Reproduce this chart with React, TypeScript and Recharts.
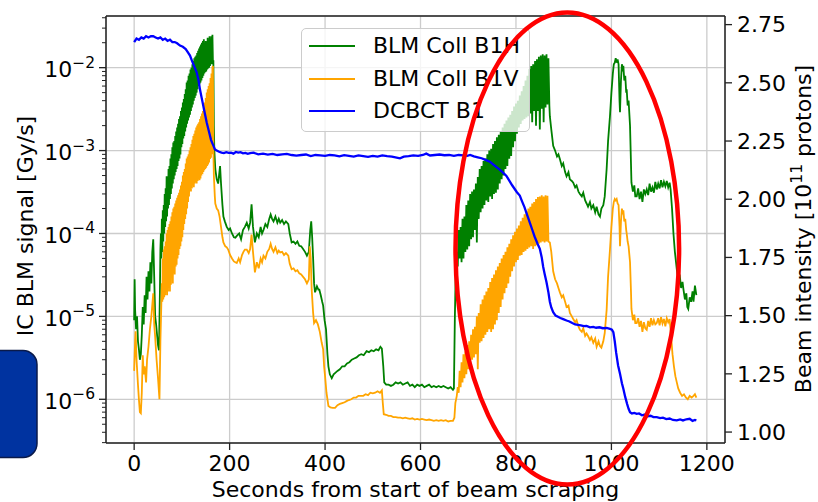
import React from 'react';
import { LineChart, Line, XAxis, YAxis, CartesianGrid, ReferenceLine, Legend, Customized } from 'recharts';

const FONT = 'DejaVu Sans';

// ---- axes / ticks ----
const xTicks = [0, 200, 400, 600, 800, 1000, 1200];
const xDomain = [-59, 1238];
const leftMajorTicks = [1e-6, 1e-5, 1e-4, 1e-3, 1e-2];
const leftMinorTicks = [
  3e-7, 4e-7, 5e-7, 6e-7, 7e-7, 8e-7, 9e-7,
  2e-6, 3e-6, 4e-6, 5e-6, 6e-6, 7e-6, 8e-6, 9e-6,
  2e-5, 3e-5, 4e-5, 5e-5, 6e-5, 7e-5, 8e-5, 9e-5,
  2e-4, 3e-4, 4e-4, 5e-4, 6e-4, 7e-4, 8e-4, 9e-4,
  2e-3, 3e-3, 4e-3, 5e-3, 6e-3, 7e-3, 8e-3, 9e-3,
  2e-2, 3e-2, 4e-2,
];
const leftDomain = [2.97e-7, 4.2e-2];
const rightTicks = [1.0, 1.25, 1.5, 1.75, 2.0, 2.25, 2.5, 2.75];
const rightDomain = [0.953, 2.787];

const xLabel = 'Seconds from start of beam scraping';
const leftLabel = 'IC BLM signal [Gy/s]';
const rightLabelParts = ['Beam intensity [10', '11', ' protons]'];
const seriesNames = ['BLM Coll B1H', 'BLM Coll B1V', 'DCBCT B1'];

// ---- series: [seconds, value] ----
const b1hPoints: [number, number][] = [
  [0, 9e-6], [1, 2.8e-5], [2, 1.2e-5], [4, 7e-6], [6, 1.0e-5], [8, 5e-6], [10, 4e-6], [12, 3e-6], [14, 3.5e-6], [16, 6e-6],
  [18, 1.3e-5], [20, 8e-6], [22, 1.8e-5], [24, 1.1e-5], [26, 3e-5], [28, 1.6e-5], [30, 3.5e-5], [32, 2e-5], [34, 4.5e-5], [36, 2.5e-5],
  [38, 6e-5], [40, 8.5e-5], [42, 3e-5], [44, 1e-5], [46, 8e-6], [48, 6e-6], [50, 4.5e-6], [52, 3.9e-6], [54, 2e-5],
  [55, 6.4e-5], [56, 1.0e-4], [57, 5e-5], [58, 1.5e-4], [59, 6e-5], [60, 1.9e-4], [61, 8e-5], [62, 2.2e-4], [63, 1.0e-4], [64, 3e-4],
  [65, 1.2e-4], [66, 3.5e-4], [67, 1.4e-4], [68, 4.9e-4], [69, 1.6e-4], [70, 4.5e-4], [71, 2e-4], [72, 6e-4], [73, 2.2e-4], [74, 6.5e-4],
  [75, 2.6e-4], [76, 8e-4], [77, 3e-4], [78, 9e-4], [79, 3.5e-4], [80, 1.1e-3], [81, 4e-4], [82, 1.25e-3], [83, 4.5e-4], [84, 1.3e-3],
  [85, 5e-4], [86, 1.5e-3], [87, 5.5e-4], [88, 1.7e-3], [89, 6e-4], [90, 1.9e-3], [91, 6.5e-4], [92, 2.1e-3], [93, 7.5e-4], [94, 2.4e-3],
  [95, 8e-4], [96, 2.6e-3], [97, 9e-4], [98, 3e-3], [99, 1.1e-3], [100, 3.3e-3], [101, 1.2e-3], [102, 3.8e-3], [103, 1.4e-3], [104, 4.2e-3],
  [105, 1.5e-3], [106, 4.8e-3], [107, 1.7e-3], [108, 5.5e-3], [109, 1.9e-3], [110, 6.6e-3], [111, 2.1e-3], [112, 7e-3], [113, 2.3e-3], [114, 8e-3],
  [115, 2.5e-3], [116, 8.5e-3], [117, 2.7e-3], [118, 9.5e-3], [119, 3e-3], [120, 1.0e-2], [121, 3.3e-3], [122, 1.1e-2], [123, 3.6e-3], [124, 1.2e-2],
  [125, 4e-3], [126, 1.3e-2], [127, 4.3e-3], [128, 1.35e-2], [129, 4.6e-3], [130, 1.4e-2], [131, 5e-3], [132, 1.5e-2], [133, 5.5e-3], [134, 1.6e-2],
  [135, 6e-3], [136, 1.7e-2], [137, 6.3e-3], [138, 1.8e-2], [139, 6.6e-3], [140, 1.9e-2], [141, 7e-3], [142, 2e-2], [143, 7.5e-3], [144, 2.1e-2],
  [145, 8e-3], [146, 2.2e-2], [147, 8.5e-3], [148, 1.9e-2], [149, 8.8e-3], [150, 2.1e-2], [151, 9e-3], [152, 2.0e-2], [153, 9.5e-3], [154, 2.3e-2],
  [155, 9.8e-3], [156, 2.1e-2], [157, 1.0e-2], [158, 2.4e-2], [159, 1.05e-2], [160, 2.2e-2], [161, 1.1e-2], [162, 2.4e-2], [163, 1.1e-2], [164, 2.5e-2],
  [165, 1.2e-2], [166, 1.2e-2], [167, 2e-3], [168, 1.0e-3], [170, 6e-4], [173, 4.5e-4], [176, 4e-4], [180, 6.5e-4], [182, 4e-4], [185, 2.2e-4],
  [187, 1.6e-4], [190, 1.4e-4], [194, 1.2e-4], [198, 1.1e-4], [201, 1.15e-4], [205, 1.0e-4], [209, 9e-5], [212, 8.9e-5], [216, 9.5e-5], [220, 1.0e-4],
  [224, 8.5e-5], [228, 1.1e-4], [232, 1.2e-4], [236, 1.35e-4], [240, 1.15e-4], [243, 1.35e-4], [246, 2.25e-4], [249, 1.2e-4], [253, 7.8e-5], [257, 1.0e-4],
  [261, 9e-5], [265, 1.2e-4], [268, 1.0e-4], [271, 1.1e-4], [275, 1.3e-4], [279, 1.2e-4], [283, 1.5e-4], [286, 1.7e-4], [289, 1.5e-4], [292, 1.4e-4],
  [296, 1.6e-4], [300, 1.35e-4], [303, 1.5e-4], [306, 1.35e-4], [310, 1.45e-4], [314, 1.3e-4], [318, 1.4e-4], [323, 1.3e-4], [326, 1.0e-4], [330, 7.8e-5],
  [334, 8e-5], [338, 7.5e-5], [342, 8e-5], [346, 7.1e-5], [350, 7e-5], [354, 6.5e-5], [358, 6e-5], [362, 5.4e-5], [366, 6e-5], [369, 1.1e-4],
  [371, 1.4e-4], [373, 9e-5], [375, 5e-5], [377, 2.5e-5], [379, 1.95e-5], [383, 2.3e-5], [386, 2.1e-5], [388, 2.1e-5], [391, 1.8e-5], [394, 1.5e-5],
  [396, 1.35e-5], [399, 9e-6], [402, 7e-6], [405, 3.5e-6], [407, 2.5e-6], [410, 2.0e-6], [414, 1.8e-6], [418, 2.0e-6], [422, 2.1e-6], [426, 2.2e-6],
  [431, 2.3e-6], [436, 2.5e-6], [441, 2.5e-6], [446, 2.7e-6], [451, 2.8e-6], [456, 3e-6], [461, 3.1e-6], [466, 3.2e-6], [471, 3.4e-6], [476, 3.5e-6],
  [481, 3.4e-6], [487, 3.8e-6], [492, 3.7e-6], [497, 3.9e-6], [502, 3.8e-6], [507, 4.0e-6], [512, 3.9e-6], [516, 4.3e-6], [519, 4.1e-6], [522, 2.5e-6],
  [524, 1.6e-6], [528, 1.5e-6], [533, 1.5e-6], [538, 1.45e-6], [543, 1.5e-6], [548, 1.6e-6], [553, 1.55e-6], [558, 1.6e-6], [563, 1.5e-6], [568, 1.55e-6],
  [573, 1.6e-6], [578, 1.45e-6], [583, 1.5e-6], [588, 1.4e-6], [593, 1.5e-6], [598, 1.45e-6], [603, 1.5e-6], [608, 1.4e-6], [613, 1.45e-6], [618, 1.5e-6],
  [623, 1.4e-6], [628, 1.45e-6], [633, 1.4e-6], [638, 1.45e-6], [643, 1.4e-6], [648, 1.45e-6], [653, 1.4e-6], [658, 1.35e-6], [663, 1.4e-6], [668, 1.3e-6],
  [670, 1.35e-6], [672, 1e-5], [674, 4e-5], [676, 6e-5], [678, 4e-5], [680, 1.1e-4], [682, 5e-5], [684, 1.2e-4], [686, 4.5e-5], [688, 1.5e-4],
  [690, 5e-5], [692, 1.6e-4], [694, 6e-5], [696, 2.2e-4], [698, 6.4e-5], [700, 2.5e-4], [702, 7e-5], [704, 3e-4], [706, 8.5e-5], [708, 3.2e-4],
  [710, 9e-5], [712, 3.4e-4], [714, 1.1e-4], [716, 4e-4], [718, 7.8e-5], [720, 4.8e-4], [722, 1.5e-4], [724, 6e-4], [726, 1.8e-4], [728, 6.5e-4],
  [730, 2e-4], [732, 7.5e-4], [734, 2.2e-4], [736, 8e-4], [738, 2.5e-4], [740, 9e-4], [742, 2.4e-4], [744, 1.0e-3], [746, 2.8e-4], [748, 1.05e-3],
  [750, 2.6e-4], [752, 1.2e-3], [754, 3e-4], [756, 1.3e-3], [758, 3.1e-4], [760, 1.45e-3], [762, 3.4e-4], [764, 1.55e-3], [766, 4e-4], [768, 1.7e-3],
  [770, 4.5e-4], [772, 1.9e-3], [774, 5e-4], [776, 2.1e-3], [778, 6e-4], [780, 2.3e-3], [782, 6.5e-4], [784, 2.5e-3], [786, 8e-4], [788, 2.7e-3],
  [790, 8.6e-4], [792, 3e-3], [794, 1.1e-3], [796, 3.4e-3], [798, 1.3e-3], [800, 3.7e-3], [802, 1.6e-3], [804, 4e-3], [806, 1.9e-3], [808, 4.6e-3],
  [810, 2.1e-3], [812, 5.2e-3], [814, 2.3e-3], [816, 6e-3], [818, 2.4e-3], [820, 7e-3], [822, 2.5e-3], [824, 8e-3], [826, 2.6e-3], [828, 9.6e-3],
  [830, 2.8e-3], [832, 1.05e-2], [834, 2.2e-3], [836, 1.1e-2], [838, 3e-3], [840, 1.2e-2], [842, 2.0e-3], [844, 1.26e-2], [846, 3e-3], [848, 1.35e-2],
  [850, 1.8e-3], [852, 1.4e-2], [854, 3.2e-3], [856, 1.45e-2], [858, 2.2e-3], [860, 1.4e-2], [862, 3.3e-3], [864, 1.45e-2], [866, 3.6e-3], [868, 1.3e-2],
  [870, 3.5e-3], [871, 2.6e-3], [874, 1.8e-3], [878, 1.14e-3], [882, 1e-3], [886, 8.5e-4], [889, 9e-4], [892, 7.9e-4], [896, 6.5e-4], [899, 7e-4],
  [903, 5.5e-4], [906, 4.9e-4], [910, 5.5e-4], [913, 4.5e-4], [917, 4.3e-4], [920, 4.1e-4], [924, 3.6e-4], [927, 3.8e-4], [931, 3.2e-4], [934, 3e-4],
  [938, 2.8e-4], [941, 3.1e-4], [945, 2.5e-4], [948, 2.3e-4], [951, 2.1e-4], [955, 2.4e-4], [958, 2.0e-4], [962, 2.2e-4], [966, 1.8e-4], [969, 2.1e-4],
  [973, 1.7e-4], [976, 1.6e-4], [979, 2.0e-4], [983, 2.2e-4], [986, 2.8e-4], [990, 6e-4], [993, 1.3e-3], [997, 2.6e-3], [1000, 5e-3], [1003, 8.5e-3],
  [1005, 1.1e-2], [1007, 1.15e-2], [1009, 1.3e-2], [1011, 1.15e-2], [1013, 1.26e-2], [1015, 1.1e-2], [1017, 4e-3], [1018, 2.9e-3], [1020, 7e-3], [1022, 1.1e-2],
  [1024, 9e-3], [1025, 1.05e-2], [1027, 7e-3], [1029, 8e-3], [1031, 5e-3], [1032, 5.5e-3], [1034, 3.5e-3], [1036, 4e-3], [1039, 2e-3], [1041, 7e-4],
  [1042, 4.1e-4], [1045, 3.2e-4], [1048, 3.8e-4], [1050, 2.8e-4], [1053, 2.8e-4], [1056, 3.5e-4], [1059, 2.6e-4], [1062, 3.2e-4], [1065, 2.4e-4], [1068, 3.4e-4],
  [1071, 3e-4], [1074, 3.4e-4], [1077, 2.9e-4], [1080, 4e-4], [1083, 3.2e-4], [1086, 3.6e-4], [1089, 3.1e-4], [1092, 4.2e-4], [1095, 3.4e-4], [1098, 4e-4],
  [1101, 3.5e-4], [1104, 4.4e-4], [1107, 3.6e-4], [1110, 4.2e-4], [1113, 3.7e-4], [1116, 4.3e-4], [1119, 3.6e-4], [1122, 4.1e-4], [1124, 3.4e-4], [1127, 2e-4],
  [1130, 1e-4], [1133, 6e-5], [1137, 3.7e-5], [1140, 2.8e-5], [1143, 3.2e-5], [1146, 2.2e-5], [1149, 2.6e-5], [1151, 2.1e-5], [1154, 1.6e-5], [1157, 1.9e-5],
  [1159, 1.3e-5], [1161, 1.23e-5], [1164, 1.7e-5], [1167, 1.5e-5], [1170, 2e-5], [1172, 1.5e-5], [1175, 2.35e-5], [1178, 1.8e-5],
];

const b1vPoints: [number, number][] = [
  [0, 2.2e-6], [2, 5e-6], [3, 6.6e-6], [5, 3e-6], [8, 1.5e-6], [10, 9.9e-7], [12, 7e-7], [14, 6.8e-7], [16, 1.2e-6], [18, 3.4e-6],
  [20, 2e-6], [22, 2.5e-6], [25, 1.6e-6], [27, 3e-6], [30, 4.3e-6], [33, 7e-6], [36, 1e-5], [40, 1.9e-5], [42, 8e-6], [44, 5.7e-6],
  [47, 3e-6], [50, 1.8e-6], [53, 1.0e-6], [55, 5e-6], [57, 1.45e-5],
  [58, 2.5e-5], [59, 1.5e-5], [60, 5e-5], [61, 1.6e-5], [62, 6.4e-5], [63, 1.7e-5], [64, 7e-5], [65, 1.8e-5], [66, 8e-5], [67, 2e-5],
  [68, 1e-4], [69, 1.8e-5], [70, 1.1e-4], [71, 2e-5], [72, 1.2e-4], [73, 2.2e-5], [74, 1.3e-4], [75, 2e-5], [76, 1.4e-4], [77, 2.4e-5],
  [78, 1.6e-4], [79, 3e-5], [80, 1.8e-4], [81, 2.5e-5], [82, 2e-4], [83, 3.5e-5], [84, 2.1e-4], [85, 3.2e-5], [86, 2.3e-4], [87, 4e-5],
  [88, 2.5e-4], [89, 4.2e-5], [90, 2.7e-4], [91, 5e-5], [92, 2.9e-4], [93, 5.5e-5], [94, 3.1e-4], [95, 6.5e-5], [96, 3.4e-4], [97, 7e-5],
  [98, 3.8e-4], [99, 8e-5], [100, 4.2e-4], [101, 9e-5], [102, 5e-4], [103, 1.1e-4], [104, 5.5e-4], [105, 1.3e-4], [106, 6e-4], [107, 1.5e-4],
  [108, 7e-4], [109, 1.7e-4], [110, 8e-4], [111, 2e-4], [112, 8.5e-4], [113, 2.4e-4], [114, 9e-4], [115, 2.8e-4], [116, 1.0e-3], [117, 3.4e-4],
  [118, 1.1e-3], [119, 3.2e-4], [120, 1.2e-3], [121, 3.5e-4], [122, 1.35e-3], [123, 3.8e-4], [124, 1.5e-3], [125, 3.6e-4], [126, 1.6e-3], [127, 4e-4],
  [128, 1.75e-3], [129, 4.2e-4], [130, 1.9e-3], [131, 4e-4], [132, 2e-3], [133, 4.3e-4], [134, 2.1e-3], [135, 4.5e-4], [136, 2.2e-3], [137, 4.4e-4],
  [138, 2.4e-3], [139, 4.6e-4], [140, 2.6e-3], [141, 5e-4], [142, 2.8e-3], [143, 5.2e-4], [144, 3e-3], [145, 5.5e-4], [146, 3.4e-3], [147, 5.8e-4],
  [148, 3.8e-3], [149, 6e-4], [150, 4.3e-3], [151, 6.2e-4], [152, 5e-3], [153, 6.5e-4], [154, 5.5e-3], [155, 6.8e-4], [156, 6e-3], [157, 7.2e-4],
  [158, 6.5e-3], [159, 7.9e-4], [160, 7.5e-3], [161, 8.2e-4], [162, 8.5e-3], [163, 9e-4], [164, 1.0e-2], [165, 1.05e-2],
  [166, 1e-3], [167, 5e-4], [169, 2.8e-4], [170, 2.3e-4], [173, 2e-4], [176, 1.9e-4], [179, 1.6e-4], [182, 1.2e-4], [185, 9e-5], [187, 7.8e-5],
  [191, 7e-5], [194, 6.8e-5], [197, 6.4e-5], [201, 5.5e-5], [205, 5e-5], [209, 4.6e-5], [212, 4.5e-5], [215, 4.4e-5], [219, 5e-5], [222, 4.5e-5],
  [226, 5.5e-5], [229, 6e-5], [232, 6.4e-5], [236, 6.4e-5], [240, 5.8e-5], [243, 6.5e-5], [246, 9.7e-5], [249, 6e-5], [253, 3.4e-5], [257, 4.5e-5],
  [261, 3.8e-5], [265, 5e-5], [268, 4.5e-5], [271, 5.4e-5], [275, 5e-5], [279, 6e-5], [283, 6.5e-5], [286, 7.5e-5], [289, 6.5e-5], [292, 6e-5],
  [296, 6.8e-5], [300, 5.8e-5], [303, 6.2e-5], [306, 5.9e-5], [310, 6e-5], [314, 5.5e-5], [318, 5.8e-5], [323, 5.4e-5], [326, 4.3e-5], [330, 3.7e-5],
  [334, 3.8e-5], [338, 3.5e-5], [342, 3.6e-5], [346, 3.3e-5], [350, 3.2e-5], [354, 3e-5], [358, 2.8e-5], [362, 2.5e-5], [366, 2.8e-5], [368, 7e-5],
  [370, 5e-5], [372, 2.1e-5], [375, 1.1e-5], [377, 8.3e-6], [381, 9e-6], [385, 8e-6], [389, 6.5e-6], [393, 4.8e-6], [396, 4e-6], [398, 2.5e-6],
  [400, 1.9e-6], [403, 1.2e-6], [407, 8.3e-7], [411, 8e-7], [416, 7.9e-7], [421, 7.9e-7], [426, 8.5e-7], [431, 8.8e-7], [436, 9e-7], [441, 9.2e-7],
  [445, 9.5e-7], [450, 9.8e-7], [455, 1e-6], [460, 1.05e-6], [465, 1.05e-6], [470, 1.1e-6], [475, 1.1e-6], [480, 1.1e-6], [485, 1.15e-6], [490, 1.12e-6],
  [495, 1.2e-6], [500, 1.18e-6], [505, 1.2e-6], [510, 1.25e-6], [515, 1.2e-6], [519, 1.28e-6], [521, 9e-7], [523, 6.6e-7], [528, 6.5e-7], [533, 6.3e-7],
  [538, 6.3e-7], [543, 6.1e-7], [548, 6.1e-7], [553, 6e-7], [558, 6e-7], [563, 5.9e-7], [568, 6e-7], [573, 5.9e-7], [578, 5.8e-7], [583, 5.9e-7],
  [588, 5.7e-7], [593, 5.8e-7], [598, 5.7e-7], [603, 5.8e-7], [608, 5.7e-7], [613, 5.6e-7], [618, 5.7e-7], [623, 5.6e-7], [628, 5.5e-7], [633, 5.6e-7],
  [638, 5.5e-7], [643, 5.6e-7], [648, 5.5e-7], [653, 5.6e-7], [658, 5.4e-7], [663, 5.5e-7], [668, 5.5e-7], [671, 6e-7], [673, 9e-7],
  [676, 1.1e-6], [678, 1.4e-6], [680, 1.2e-6], [682, 2.2e-6], [684, 1.4e-6], [686, 2.8e-6], [688, 1.6e-6], [690, 3.5e-6], [692, 1.8e-6], [694, 3.8e-6],
  [696, 2e-6], [698, 4.5e-6], [700, 2.3e-6], [702, 5e-6], [704, 2.6e-6], [706, 6e-6], [708, 3e-6], [710, 7e-6], [712, 3.2e-6], [714, 7.5e-6],
  [716, 3.5e-6], [718, 1e-5], [720, 2.3e-6], [722, 1.1e-5], [724, 4.8e-6], [726, 1.4e-5], [728, 5e-6], [730, 1.6e-5], [732, 5.5e-6], [734, 1.8e-5],
  [736, 6e-6], [738, 2e-5], [740, 6.5e-6], [742, 2.2e-5], [744, 7e-6], [746, 2.6e-5], [748, 6.5e-6], [750, 2.9e-5], [752, 7e-6], [754, 3.2e-5],
  [756, 8e-6], [758, 3.6e-5], [760, 9e-6], [762, 4e-5], [764, 1.1e-5], [766, 4.4e-5], [768, 1.3e-5], [770, 5e-5], [772, 1.6e-5], [774, 5.5e-5],
  [776, 1.9e-5], [778, 6e-5], [780, 2.2e-5], [782, 6.8e-5], [784, 2.5e-5], [786, 7.5e-5], [788, 3e-5], [790, 8.5e-5], [792, 3.5e-5], [794, 9.5e-5],
  [796, 4e-5], [798, 1.05e-4], [800, 4.5e-5], [802, 1.15e-4], [804, 4.8e-5], [806, 1.25e-4], [808, 5.4e-5], [810, 1.4e-4], [812, 5.5e-5], [814, 1.55e-4],
  [816, 6e-5], [818, 1.7e-4], [820, 6.2e-5], [822, 1.85e-4], [824, 6.5e-5], [826, 2e-4], [828, 6.8e-5], [830, 2.1e-4], [832, 7e-5], [834, 2.3e-4],
  [836, 6.5e-5], [838, 2.4e-4], [840, 7e-5], [842, 2.6e-4], [844, 7.2e-5], [846, 2.75e-4], [848, 7.5e-5], [850, 2.8e-4], [852, 7.8e-5], [854, 2.9e-4],
  [856, 8e-5], [858, 2.8e-4], [860, 7.8e-5], [862, 2.9e-4], [864, 8e-5], [866, 2.85e-4], [868, 8e-5],
  [871, 7.8e-5], [874, 6e-5], [878, 3.5e-5], [882, 2.8e-5], [886, 2.5e-5], [889, 2.2e-5], [892, 1.95e-5], [896, 1.7e-5], [899, 1.8e-5], [903, 1.5e-5],
  [906, 1.3e-5], [910, 1.35e-5], [913, 1.1e-5], [917, 1e-5], [920, 9.3e-6], [924, 8.5e-6], [927, 9e-6], [931, 7.5e-6], [934, 6.9e-6], [938, 6.5e-6],
  [941, 7.2e-6], [945, 5.8e-6], [948, 6.2e-6], [951, 5.8e-6], [955, 5.2e-6], [958, 5.6e-6], [962, 4.8e-6], [966, 5.4e-6], [969, 4.3e-6], [973, 5e-6],
  [976, 4.4e-6], [979, 4.2e-6], [983, 5e-6], [986, 6.3e-6], [990, 1.2e-5], [993, 3e-5], [997, 6.4e-5], [1000, 1.2e-4], [1003, 2e-4], [1005, 2.4e-4],
  [1007, 2.6e-4], [1009, 2.5e-4], [1011, 2.6e-4], [1013, 2.3e-4], [1015, 2.2e-4], [1017, 1.2e-4], [1018, 7e-5], [1020, 1.4e-4], [1022, 2e-4], [1024, 1.7e-4],
  [1025, 1.9e-4], [1027, 1.4e-4], [1029, 1.5e-4], [1031, 1.1e-4], [1032, 1e-4], [1034, 8e-5], [1036, 7e-5], [1039, 4.5e-5], [1041, 2e-5], [1042, 1.23e-5],
  [1045, 9e-6], [1048, 1.05e-5], [1050, 8.3e-6], [1053, 8.3e-6], [1056, 9.5e-6], [1059, 7.5e-6], [1062, 8.8e-6], [1065, 6.5e-6], [1068, 8.5e-6], [1071, 7.2e-6],
  [1074, 6.9e-6], [1077, 8.8e-6], [1080, 7.5e-6], [1083, 9.5e-6], [1086, 7.8e-6], [1089, 9e-6], [1092, 8e-6], [1095, 8.3e-6], [1098, 9.5e-6], [1101, 7.8e-6],
  [1104, 9.8e-6], [1107, 8.2e-6], [1110, 9.3e-6], [1113, 7.6e-6], [1116, 9.5e-6], [1119, 8.5e-6], [1122, 9.3e-6], [1125, 5.8e-6], [1128, 3.5e-6], [1131, 2.5e-6],
  [1134, 1.9e-6], [1137, 1.6e-6], [1140, 1.35e-6], [1144, 1.2e-6], [1148, 1.1e-6], [1152, 1.15e-6], [1156, 1.05e-6], [1160, 1.0e-6], [1164, 1.1e-6], [1168, 1.05e-6],
  [1172, 1.1e-6], [1175, 1.15e-6], [1178, 1.05e-6],
];

const dcbctPoints: [number, number][] = [
  [0, 2.675], [5, 2.69], [10, 2.685], [15, 2.695], [20, 2.69], [25, 2.7], [30, 2.695], [35, 2.7], [40, 2.7], [45, 2.695],
  [50, 2.69], [55, 2.695], [60, 2.685], [65, 2.69], [70, 2.68], [75, 2.685], [80, 2.675], [85, 2.675], [90, 2.67], [96, 2.66],
  [102, 2.655], [108, 2.645], [113, 2.63], [117, 2.617], [122, 2.59], [127, 2.565], [131, 2.545], [135, 2.51], [138, 2.47], [142, 2.43],
  [146, 2.39], [149, 2.36], [152, 2.33], [155, 2.305], [158, 2.28], [161, 2.255], [163, 2.245], [166, 2.23], [169, 2.215], [173, 2.209],
  [178, 2.204], [183, 2.2], [188, 2.198], [193, 2.202], [198, 2.199], [203, 2.2], [208, 2.196], [213, 2.203], [218, 2.2], [223, 2.202],
  [228, 2.197], [233, 2.199], [238, 2.195], [243, 2.198], [250, 2.2], [260, 2.193], [270, 2.196], [280, 2.192], [290, 2.195], [300, 2.19],
  [310, 2.193], [320, 2.195], [330, 2.19], [340, 2.187], [350, 2.19], [360, 2.192], [370, 2.185], [380, 2.19], [390, 2.188], [400, 2.186],
  [410, 2.19], [420, 2.188], [430, 2.184], [440, 2.189], [450, 2.186], [460, 2.183], [470, 2.188], [480, 2.185], [490, 2.182], [500, 2.186],
  [510, 2.183], [520, 2.188], [530, 2.185], [540, 2.183], [550, 2.179], [557, 2.176], [565, 2.183], [575, 2.185], [585, 2.188], [595, 2.186],
  [605, 2.19], [612, 2.196], [620, 2.188], [630, 2.19], [640, 2.192], [650, 2.189], [660, 2.19], [670, 2.186], [680, 2.19], [690, 2.188],
  [698, 2.186], [704, 2.19], [712, 2.184], [720, 2.18], [728, 2.176], [735, 2.17], [741, 2.165], [746, 2.16], [752, 2.15], [758, 2.14],
  [764, 2.13], [770, 2.12], [775, 2.11], [780, 2.1], [786, 2.08], [792, 2.06], [797, 2.045], [802, 2.03], [808, 2.016], [813, 1.99],
  [818, 1.965], [823, 1.935], [829, 1.9], [834, 1.87], [839, 1.84], [845, 1.81], [850, 1.787], [854, 1.75], [857, 1.71], [860, 1.68],
  [864, 1.643], [868, 1.6], [871, 1.56], [874, 1.535], [878, 1.515], [883, 1.5], [888, 1.495], [893, 1.49], [899, 1.485], [906, 1.479],
  [912, 1.475], [918, 1.468], [924, 1.462], [930, 1.46], [936, 1.458], [942, 1.455], [948, 1.456], [955, 1.45], [962, 1.452], [968, 1.448],
  [975, 1.45], [982, 1.446], [990, 1.447], [997, 1.443], [1001, 1.44], [1004, 1.429], [1007, 1.39], [1010, 1.34], [1014, 1.286], [1018, 1.25],
  [1022, 1.21], [1025, 1.186], [1029, 1.15], [1033, 1.12], [1036, 1.1], [1039, 1.085], [1043, 1.08], [1048, 1.082], [1053, 1.078], [1058, 1.08],
  [1064, 1.072], [1070, 1.075], [1076, 1.068], [1082, 1.07], [1088, 1.064], [1095, 1.064], [1102, 1.06], [1108, 1.062], [1115, 1.056], [1122, 1.058],
  [1129, 1.052], [1137, 1.05], [1144, 1.054], [1150, 1.05], [1157, 1.055], [1164, 1.057], [1170, 1.048], [1175, 1.052], [1178, 1.05],
];

const toRows = (pts: [number, number][]) => pts.map(([t, v]) => ({ t, v }));
const b1hData = toRows(b1hPoints);
const b1vData = toRows(b1vPoints);
const dcbctData = toRows(dcbctPoints);
const leftTicksAll = [...leftMinorTicks, ...leftMajorTicks].sort((a, b) => a - b);

const LogTick = (props: any) => {
  const { x, y, payload } = props;
  const v = payload.value;
  const e = Math.round(Math.log10(v));
  const major = Math.abs(v - Math.pow(10, e)) / v < 1e-6;
  const len = major ? 7 : 4;
  return (
    <g>
      <line x1={x - len} x2={x} y1={y} y2={y} stroke="#222" strokeWidth={major ? 1.3 : 1} />
      {major && (
        <text x={x - 11} y={y + 9.5} textAnchor="end" fontFamily={FONT} fontSize={22} fill="#000">
          <tspan>10</tspan>
          <tspan dy={-9.5} fontSize={15.5}>{'\u2212' + String(-e)}</tspan>
        </text>
      )}
    </g>
  );
};

const LegendBox = (props: any) => {
  const payload = props.payload || [];
  return (
    <div style={{ position: 'relative', width: 229, height: 104, boxSizing: 'border-box', background: 'rgba(255,255,255,0.8)', border: '1px solid #cccccc', borderRadius: 5, fontFamily: FONT, fontSize: 22, color: '#000' }}>
      {payload.map((entry: any, i: number) => (
        <div key={i} style={{ position: 'absolute', left: 0, top: 1 + i * 32.5, height: 32.5, display: 'flex', alignItems: 'center', whiteSpace: 'nowrap' }}>
          <svg width={64} height={10} style={{ display: 'block' }}>
            <line x1={7} x2={53} y1={5} y2={5} stroke={entry.color} strokeWidth={2} />
          </svg>
          <span style={{ marginLeft: 7, lineHeight: '22px' }}>{entry.value}</span>
        </div>
      ))}
    </div>
  );
};

const AxisTitles = () => (
  <g fontFamily={FONT} fontSize={22} fill="#000">
    <text transform="translate(33,226) rotate(-90)" textAnchor="middle">{leftLabel}</text>
    <text transform="translate(811,229) rotate(-90)" textAnchor="middle">
      <tspan>{rightLabelParts[0]}</tspan>
      <tspan dy={-9} fontSize={15.5}>{rightLabelParts[1]}</tspan>
      <tspan dy={9}>{rightLabelParts[2]}</tspan>
    </text>
    <text x={415.5} y={497} textAnchor="middle">{xLabel}</text>
  </g>
);

export default function App() {
  return (
    <div style={{ position: 'absolute', left: 0, top: 0, width: 818, height: 502, background: '#fff' }}>
      <LineChart width={818} height={502} margin={{ top: 16, right: 0, bottom: 0, left: 0 }}>
        <CartesianGrid yAxisId="grid" stroke="#cccccc" strokeWidth={1.3} />
        <XAxis
          type="number"
          dataKey="t"
          domain={xDomain}
          ticks={xTicks}
          allowDataOverflow
          height={59}
          interval={0}
          tickSize={7}
          tickMargin={5}
          axisLine={{ stroke: '#222', strokeWidth: 1.5 }}
          tickLine={{ stroke: '#222', strokeWidth: 1.3 }}
          tick={{ fontSize: 22, fill: '#000', fontFamily: FONT }}
        />
        <YAxis
          yAxisId="grid"
          type="number"
          scale="log"
          domain={leftDomain}
          ticks={leftMajorTicks}
          allowDataOverflow
          interval={0}
          width={0}
          hide
        />
        <YAxis
          yAxisId="left"
          type="number"
          scale="log"
          domain={leftDomain}
          ticks={leftTicksAll}
          allowDataOverflow
          interval={0}
          width={106}
          tickSize={0}
          tickMargin={0}
          tickLine={false}
          axisLine={{ stroke: '#222', strokeWidth: 1.5 }}
          tick={<LogTick />}
        />
        <YAxis
          yAxisId="right"
          orientation="right"
          type="number"
          domain={rightDomain}
          ticks={rightTicks}
          allowDataOverflow
          interval={0}
          width={93}
          tickSize={7}
          tickMargin={5}
          tickFormatter={(v: number) => v.toFixed(2)}
          axisLine={{ stroke: '#222', strokeWidth: 1.5 }}
          tickLine={{ stroke: '#222', strokeWidth: 1.3 }}
          tick={{ fontSize: 22, fill: '#000', fontFamily: FONT, textAnchor: 'start' }}
        />
        <Line yAxisId="left" data={b1hData} dataKey="v" name={seriesNames[0]} stroke="#008000" strokeWidth={1.8} dot={false} isAnimationActive={false} />
        <Line yAxisId="left" data={b1vData} dataKey="v" name={seriesNames[1]} stroke="#FFA500" strokeWidth={1.8} dot={false} isAnimationActive={false} />
        <Line yAxisId="right" data={dcbctData} dataKey="v" name={seriesNames[2]} stroke="#0000FF" strokeWidth={2.3} dot={false} isAnimationActive={false} />
        <ReferenceLine yAxisId="left" y={leftDomain[1]} stroke="#222" strokeWidth={1.5} />
        <Customized component={AxisTitles} />
        <Legend
          layout="vertical"
          align="center"
          verticalAlign="middle"
          content={<LegendBox />}
          wrapperStyle={{ left: 301, top: 28, width: 229, height: 104 }}
        />
      </LineChart>
      <svg width={818} height={502} style={{ position: 'absolute', left: 0, top: 0, pointerEvents: 'none', zIndex: 10 }}>
        <rect x={-20} y={350.5} width={57} height={107} rx={14} ry={14} fill="#0033A0" stroke="#0A1A4A" strokeWidth={1.5} />
        <ellipse cx={567.3} cy={248.5} rx={111.8} ry={236} fill="none" stroke="#FF0000" strokeWidth={4.5} />
      </svg>
    </div>
  );
}
